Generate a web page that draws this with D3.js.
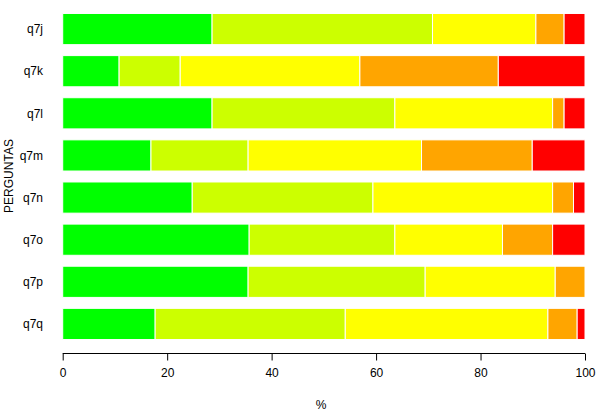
<!DOCTYPE html>
<html>
<head>
<meta charset="utf-8">
<script src="https://cdn.jsdelivr.net/npm/d3@7"></script>
<style>
  html, body { margin: 0; padding: 0; background: #fff; }
  svg { display: block; }
  text { font-family: "Liberation Sans", Arial, sans-serif; fill: #000; }
</style>
</head>
<body>
<svg id="chart" width="600" height="411"></svg>
<script>
// Data
const categories = ["q7j", "q7k", "q7l", "q7m", "q7n", "q7o", "q7p", "q7q"];
const seriesKeys = ["s1", "s2", "s3", "s4", "s5"];
const seriesColors = ["#00ff00", "#ccff00", "#ffff00", "#ffa500", "#ff0000"];
const s1 = [28.6, 10.8, 28.6, 16.9, 24.8, 35.7, 35.5, 17.7];
const s2 = [42.2, 11.7, 35.0, 18.6, 34.6, 27.9, 33.9, 36.4];
const s3 = [19.8, 34.4, 30.2, 33.2, 34.4, 20.6, 24.9, 38.8];
const s4 = [5.4, 26.5, 2.2, 21.2, 4.0, 9.6, 5.7, 5.6];
const s5 = [4.0, 16.6, 4.0, 10.1, 2.2, 6.2, 0.0, 1.5];
const xTicks = [0, 20, 40, 60, 80, 100];
const xLabel = "%";
const yLabel = "PERGUNTAS";

const rows = categories.map((c, i) => ({cat: c, s1: s1[i], s2: s2[i], s3: s3[i], s4: s4[i], s5: s5[i]}));
const stacked = d3.stack().keys(seriesKeys)(rows);

const svg = d3.select("#chart");
const x = d3.scaleLinear().domain([0, 100]).range([62.7, 585]);
const y = d3.scaleBand().domain(categories).range([8, 345]).paddingInner(0.26).paddingOuter(0.13);

const g = svg.append("g");
g.selectAll("g.series").data(stacked).join("g")
  .attr("class", "series")
  .attr("fill", (d, i) => seriesColors[i])
  .selectAll("rect").data(d => d).join("rect")
  .attr("x", d => x(d[0]))
  .attr("width", d => Math.max(0, x(d[1]) - x(d[0])))
  .attr("y", d => y(d.data.cat))
  .attr("height", y.bandwidth())
  .attr("stroke", "#fff")
  .attr("stroke-width", 1);

// category labels
svg.selectAll("text.cat").data(categories).join("text")
  .attr("class", "cat")
  .attr("x", 43)
  .attr("y", d => y(d) + y.bandwidth() / 2)
  .attr("dy", "0.35em")
  .attr("text-anchor", "end")
  .attr("font-size", 12)
  .text(d => d);

// x axis
const xAxis = d3.axisBottom(x).tickValues(xTicks).tickSize(7).tickPadding(8).tickSizeOuter(0);
const ax = svg.append("g").attr("transform", "translate(0,353.5)").call(xAxis);
ax.select(".domain").attr("stroke", "#000").attr("d", `M${x(0)},0H${x(100)}`);
ax.selectAll(".tick line").attr("stroke", "#000");
ax.selectAll(".tick text").attr("font-size", 12).attr("font-family", "Liberation Sans, Arial, sans-serif").attr("fill", "#000");

svg.append("text")
  .attr("x", 321).attr("y", 409)
  .attr("text-anchor", "middle")
  .attr("font-size", 12)
  .text(xLabel);

svg.append("text")
  .attr("transform", "translate(13,176) rotate(-90)")
  .attr("text-anchor", "middle")
  .attr("font-size", 12)
  .text(yLabel);
</script>
</body>
</html>
